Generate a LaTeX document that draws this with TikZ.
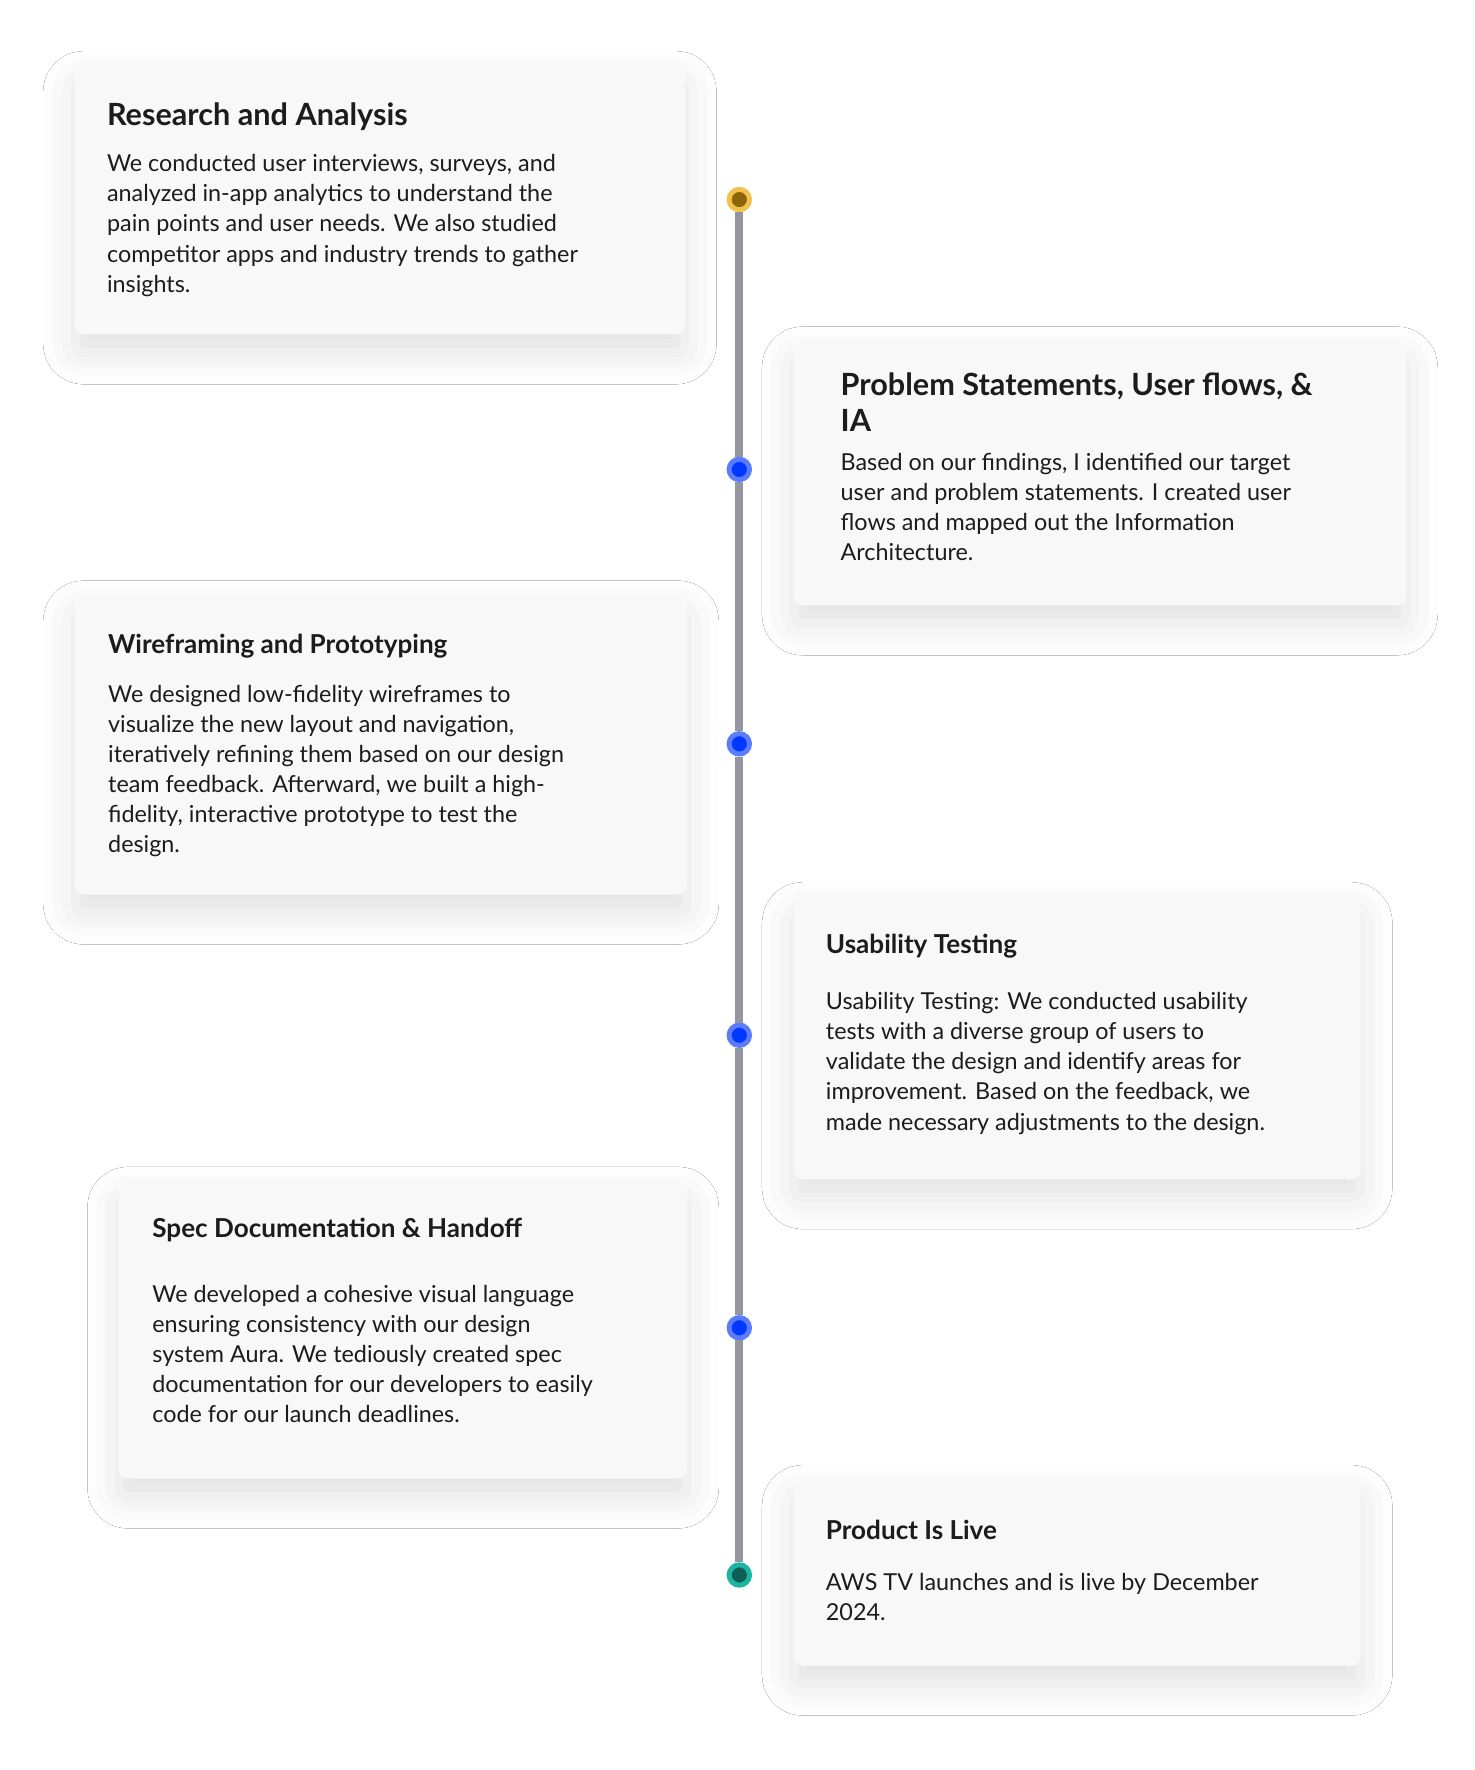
\documentclass[tikz,border=0pt]{standalone}
\usepackage{fontspec}
\setmainfont{Lato}
\usetikzlibrary{shadows.blur}
\definecolor{cardbg}{HTML}{F8F8F8}
\definecolor{rail}{HTML}{93969E}
\definecolor{txt}{HTML}{1C1C1C}
\begin{document}
\begin{tikzpicture}[x=0.5pt,y=-0.5pt,
    card/.style={fill=cardbg,rounded corners=4pt,
      blur shadow={shadow xshift=0pt,shadow yshift=-8pt,shadow blur radius=14pt,shadow opacity=12}},
    bigtitle/.style={anchor=west,inner sep=0,text=txt,font=\fontsize{13.5}{16}\selectfont\bfseries,align=left},
    title/.style={anchor=west,inner sep=0,text=txt,font=\fontsize{11.5}{14}\selectfont\bfseries},
    body/.style={anchor=north west,inner sep=0,text=txt,align=left,font=\fontsize{10.3}{13.25}\selectfont},
    dot/.style={circle,inner sep=0,minimum size=9pt,line width=2.2pt},
    startdot/.style={dot,fill={rgb,255:red,139;green,101;blue,8},draw={rgb,255:red,242;green,193;blue,78}},
    stepdot/.style={dot,fill={rgb,255:red,0;green,56;blue,255},draw={rgb,255:red,91;green,124;blue,255}},
    enddot/.style={dot,fill={rgb,255:red,14;green,94;blue,85},draw={rgb,255:red,29;green,181;blue,160}}]
  \useasboundingbox[fill=white] (0,0) rectangle (1300,1561);
  % cards
  \path[card] (66,57) rectangle (604,295);
  \path[card] (700,300) rectangle (1240,534);
  \path[card] (66,524) rectangle (606,789);
  \path[card] (700,790) rectangle (1200,1040);
  \path[card] (105,1041) rectangle (606,1304);
  \path[card] (700,1304) rectangle (1200,1469);
  % texts
  \node[bigtitle] (t1) at (94,103) {Research and Analysis};
  \node[body] (b1) at (94,136) {We conducted user interviews, surveys, and\\analyzed in-app analytics to understand the\\pain points and user needs. We also studied\\competitor apps and industry trends to gather\\insights.};
  \node[bigtitle,anchor=north west] (t2) at (741,328) {Problem Statements, User flows, \&\\IA};
  \node[body] (b2) at (741,399) {Based on our findings, I identified our target\\user and problem statements. I created user\\flows and mapped out the Information\\Architecture.};
  \node[title] (t3) at (95,570) {Wireframing and Prototyping};
  \node[body] (b3) at (95,604) {We designed low-fidelity wireframes to\\visualize the new layout and navigation,\\iteratively refining them based on our design\\team feedback. Afterward, we built a high-\\fidelity, interactive prototype to test the\\design.};
  \node[title] (t4) at (728,834) {Usability Testing};
  \node[body] (b4) at (728,875) {Usability Testing: We conducted usability\\tests with a diverse group of users to\\validate the design and identify areas for\\improvement. Based on the feedback, we\\made necessary adjustments to the design.};
  \node[title] (t5) at (134,1085) {Spec Documentation \& Handoff};
  \node[body] (b5) at (134,1133) {We developed a cohesive visual language\\ensuring consistency with our design\\system Aura. We tediously created spec\\documentation for our developers to easily\\code for our launch deadlines.};
  \node[title] (t6) at (728,1349) {Product Is Live};
  \node[body] (b6) at (728,1387) {AWS TV launches and is live by December\\2024.};
  % timeline
  \node[startdot] (d1) at (652,176) {};
  \node[stepdot] (d2) at (652,414) {};
  \node[stepdot] (d3) at (652,656) {};
  \node[stepdot] (d4) at (652,913) {};
  \node[stepdot] (d5) at (652,1171) {};
  \node[enddot] (d6) at (652,1389) {};
  \begin{scope}[on background layer/.style={}]
  \end{scope}
  \draw[rail,line width=3.5pt] (d1) -- (d2) -- (d3) -- (d4) -- (d5) -- (d6);
\end{tikzpicture}
\end{document}
